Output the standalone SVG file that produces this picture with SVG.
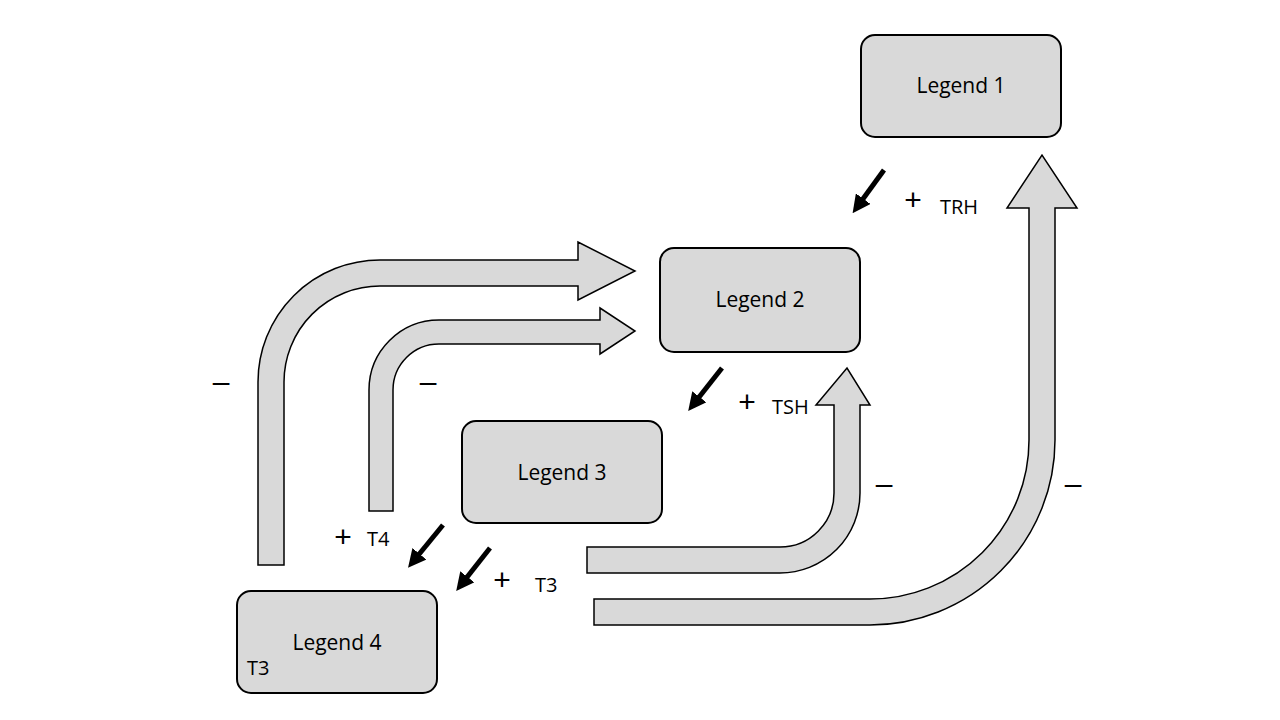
<svg xmlns="http://www.w3.org/2000/svg" width="1280" height="720" viewBox="0 0 1280 720">
<style>
.node{fill:#d9d9d9;stroke:#000;stroke-width:2}
.band{fill:#d9d9d9;stroke:#000;stroke-width:1.5;stroke-linejoin:miter}
.lbl{font-family:"Open Sans","Liberation Sans",sans-serif;font-size:21px;fill:#000;text-anchor:middle}
.sm{font-family:"Open Sans","Liberation Sans",sans-serif;font-size:20px;fill:#000}
.sign{font-family:"Liberation Sans",sans-serif;font-size:30px;fill:#000;text-anchor:middle}
.ptr{stroke:#000;stroke-width:5;marker-end:url(#ah)}
</style>
<defs>
<marker id="ah" viewBox="0 0 10 10" refX="3" refY="5" markerWidth="3.6" markerHeight="3.6" orient="auto" markerUnits="strokeWidth">
<path d="M0,0 L10,5 L0,10 Z" fill="#000"/>
</marker>
</defs>
<rect width="1280" height="720" fill="#fff"/>
<g id="connectors">
<path class="band" d="M258,565 L258,382 A122,122 0 0 1 380,260 L578,260 L578,242 L635,271 L578,300 L578,286 L380,286 A96,96 0 0 0 284,382 L284,565 Z"/>
<path class="band" d="M369,511 L369,390 A70,70 0 0 1 439,320 L600,320 L600,308 L635,331 L600,354 L600,344 L439,344 A46,46 0 0 0 393,390 L393,511 Z"/>
<path class="band" d="M587,547 L780,547 A54,54 0 0 0 834,493 L834,405 L816,405 L847,368 L870,405 L860,405 L860,493 A80,80 0 0 1 780,573 L587,573 Z"/>
<path class="band" d="M594,599 L870,599 A159,159 0 0 0 1029,440 L1029,208 L1007,208 L1042,155 L1077,208 L1055,208 L1055,440 A185,185 0 0 1 870,625 L594,625 Z"/>
<line class="ptr" x1="884" y1="170" x2="860" y2="203"/>
<line class="ptr" x1="722" y1="368" x2="696" y2="401"/>
<line class="ptr" x1="443" y1="525" x2="416" y2="558"/>
<line class="ptr" x1="490" y1="548" x2="464" y2="581"/>
<text class="sign" x="913" y="210">+</text><text class="sm" x="940" y="214">TRH</text>
<text class="sign" x="747" y="412">+</text><text class="sm" x="772" y="414">TSH</text>
<text class="sign" x="343" y="547">+</text><text class="sm" x="367" y="546">T4</text>
<text class="sign" x="502" y="590">+</text><text class="sm" x="535" y="592">T3</text>
<text class="sign" x="221" y="392">–</text>
<text class="sign" x="428" y="392">–</text>
<text class="sign" x="884" y="494">–</text>
<text class="sign" x="1073" y="494">–</text>
</g>
<g id="legend1"><rect class="node" x="861" y="35" width="200" height="102" rx="14"/><text class="lbl" x="961" y="93">Legend 1</text></g>
<g id="legend2"><rect class="node" x="660" y="248" width="200" height="104" rx="14"/><text class="lbl" x="760" y="307">Legend 2</text></g>
<g id="legend3"><rect class="node" x="462" y="421" width="200" height="102" rx="14"/><text class="lbl" x="562" y="480">Legend 3</text></g>
<g id="legend4"><rect class="node" x="237" y="591" width="200" height="102" rx="14"/><text class="lbl" x="337" y="650">Legend 4</text><text class="sm" x="247" y="675">T3</text></g>
</svg>
